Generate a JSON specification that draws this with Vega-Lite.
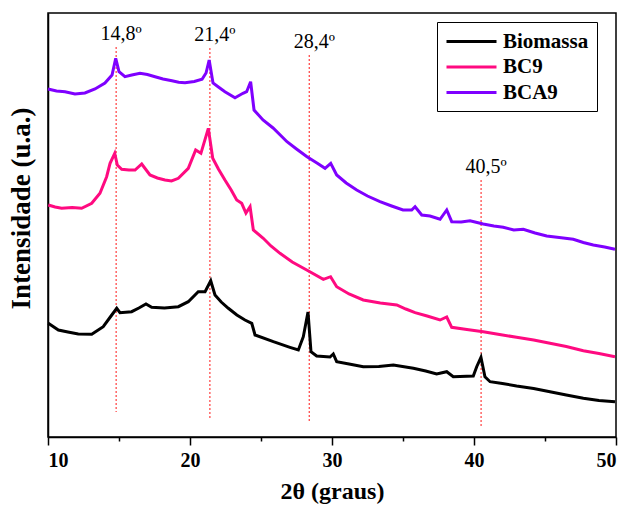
{
  "$schema": "https://vega.github.io/schema/vega-lite/v6.json",
  "width": 568,
  "height": 424,
  "autosize": {"type": "none"},
  "padding": {"left": 48, "top": 13, "right": 10, "bottom": 68},
  "background": "white",
  "config": {
    "view": {"stroke": "black", "strokeWidth": 1.5},
    "font": "Liberation Serif"
  },
  "datasets": {
    "xrd": [
      {"s": "BCA9", "x": 10.0, "y": 348}, {"s": "BCA9", "x": 10.6, "y": 346}, {"s": "BCA9", "x": 11.2, "y": 345.3}, {"s": "BCA9", "x": 11.9, "y": 343}, {"s": "BCA9", "x": 12.6, "y": 344},
      {"s": "BCA9", "x": 13.31, "y": 348}, {"s": "BCA9", "x": 14.01, "y": 354}, {"s": "BCA9", "x": 14.51, "y": 362},
      {"s": "BCA9", "x": 14.77, "y": 378.7}, {"s": "BCA9", "x": 15.0, "y": 365.3}, {"s": "BCA9", "x": 15.42, "y": 360.3},
      {"s": "BCA9", "x": 15.9, "y": 362}, {"s": "BCA9", "x": 16.48, "y": 363.7}, {"s": "BCA9", "x": 17.0, "y": 362.5}, {"s": "BCA9", "x": 17.54, "y": 360.3}, {"s": "BCA9", "x": 18.1, "y": 358}, {"s": "BCA9", "x": 18.73, "y": 356.3},
      {"s": "BCA9", "x": 19.2, "y": 354.8}, {"s": "BCA9", "x": 19.65, "y": 354.3}, {"s": "BCA9", "x": 20.3, "y": 355.5}, {"s": "BCA9", "x": 20.85, "y": 357.7}, {"s": "BCA9", "x": 21.13, "y": 364},
      {"s": "BCA9", "x": 21.35, "y": 377}, {"s": "BCA9", "x": 21.62, "y": 354}, {"s": "BCA9", "x": 22.0, "y": 350}, {"s": "BCA9", "x": 22.46, "y": 345.3},
      {"s": "BCA9", "x": 23.17, "y": 339.3}, {"s": "BCA9", "x": 23.73, "y": 343.7}, {"s": "BCA9", "x": 23.99, "y": 345.3},
      {"s": "BCA9", "x": 24.27, "y": 355.3}, {"s": "BCA9", "x": 24.51, "y": 327}, {"s": "BCA9", "x": 25.14, "y": 317},
      {"s": "BCA9", "x": 25.85, "y": 309}, {"s": "BCA9", "x": 26.83, "y": 295.3}, {"s": "BCA9", "x": 27.5, "y": 288}, {"s": "BCA9", "x": 28.24, "y": 280.3},
      {"s": "BCA9", "x": 28.94, "y": 274}, {"s": "BCA9", "x": 29.51, "y": 268.7}, {"s": "BCA9", "x": 29.91, "y": 273.7},
      {"s": "BCA9", "x": 30.33, "y": 262}, {"s": "BCA9", "x": 31.0, "y": 254}, {"s": "BCA9", "x": 31.74, "y": 247}, {"s": "BCA9", "x": 32.5, "y": 241}, {"s": "BCA9", "x": 33.38, "y": 235.3},
      {"s": "BCA9", "x": 34.2, "y": 231}, {"s": "BCA9", "x": 35.0, "y": 227}, {"s": "BCA9", "x": 35.61, "y": 227}, {"s": "BCA9", "x": 35.85, "y": 230.3},
      {"s": "BCA9", "x": 36.32, "y": 222}, {"s": "BCA9", "x": 36.9, "y": 221}, {"s": "BCA9", "x": 37.61, "y": 217.7},
      {"s": "BCA9", "x": 38.08, "y": 227}, {"s": "BCA9", "x": 38.43, "y": 215.3}, {"s": "BCA9", "x": 39.1, "y": 215}, {"s": "BCA9", "x": 39.72, "y": 216.3},
      {"s": "BCA9", "x": 40.65, "y": 213}, {"s": "BCA9", "x": 41.4, "y": 211}, {"s": "BCA9", "x": 42.06, "y": 209.7}, {"s": "BCA9", "x": 42.8, "y": 207}, {"s": "BCA9", "x": 43.47, "y": 207.7},
      {"s": "BCA9", "x": 44.3, "y": 204}, {"s": "BCA9", "x": 45.12, "y": 201}, {"s": "BCA9", "x": 46.0, "y": 199.5}, {"s": "BCA9", "x": 46.99, "y": 197.7}, {"s": "BCA9", "x": 47.7, "y": 194.5}, {"s": "BCA9", "x": 48.4, "y": 192},
      {"s": "BCA9", "x": 49.2, "y": 190}, {"s": "BCA9", "x": 49.93, "y": 187.7},

      {"s": "BC9", "x": 10.02, "y": 232}, {"s": "BC9", "x": 10.5, "y": 230}, {"s": "BC9", "x": 10.96, "y": 228.7}, {"s": "BC9", "x": 11.7, "y": 229.5}, {"s": "BC9", "x": 12.37, "y": 228.7},
      {"s": "BC9", "x": 13.08, "y": 233.7}, {"s": "BC9", "x": 13.66, "y": 243.7}, {"s": "BC9", "x": 14.13, "y": 260.3},
      {"s": "BC9", "x": 14.37, "y": 273.7}, {"s": "BC9", "x": 14.7, "y": 283.7}, {"s": "BC9", "x": 14.88, "y": 272},
      {"s": "BC9", "x": 15.19, "y": 267.7}, {"s": "BC9", "x": 15.7, "y": 267}, {"s": "BC9", "x": 16.13, "y": 267}, {"s": "BC9", "x": 16.6, "y": 273},
      {"s": "BC9", "x": 17.18, "y": 262}, {"s": "BC9", "x": 17.7, "y": 259}, {"s": "BC9", "x": 18.24, "y": 257}, {"s": "BC9", "x": 18.7, "y": 256}, {"s": "BC9", "x": 19.18, "y": 258.7},
      {"s": "BC9", "x": 19.88, "y": 268.7}, {"s": "BC9", "x": 20.4, "y": 287}, {"s": "BC9", "x": 20.77, "y": 283.7},
      {"s": "BC9", "x": 21.29, "y": 308.7}, {"s": "BC9", "x": 21.6, "y": 278.7}, {"s": "BC9", "x": 22.0, "y": 268}, {"s": "BC9", "x": 22.46, "y": 257},
      {"s": "BC9", "x": 22.9, "y": 247}, {"s": "BC9", "x": 23.29, "y": 237}, {"s": "BC9", "x": 23.64, "y": 233.7}, {"s": "BC9", "x": 23.94, "y": 224},
      {"s": "BC9", "x": 24.23, "y": 230.3}, {"s": "BC9", "x": 24.46, "y": 207}, {"s": "BC9", "x": 25.16, "y": 198.7},
      {"s": "BC9", "x": 25.7, "y": 191}, {"s": "BC9", "x": 26.34, "y": 183.7}, {"s": "BC9", "x": 27.2, "y": 175}, {"s": "BC9", "x": 28.22, "y": 167}, {"s": "BC9", "x": 29.39, "y": 157.7},
      {"s": "BC9", "x": 29.9, "y": 160.3}, {"s": "BC9", "x": 30.33, "y": 150.3}, {"s": "BC9", "x": 31.2, "y": 143}, {"s": "BC9", "x": 32.2, "y": 137},
      {"s": "BC9", "x": 33.4, "y": 134}, {"s": "BC9", "x": 34.56, "y": 132}, {"s": "BC9", "x": 35.2, "y": 128}, {"s": "BC9", "x": 35.85, "y": 124.3}, {"s": "BC9", "x": 36.7, "y": 121}, {"s": "BC9", "x": 37.61, "y": 117},
      {"s": "BC9", "x": 38.08, "y": 120}, {"s": "BC9", "x": 38.43, "y": 109.7}, {"s": "BC9", "x": 39.5, "y": 107.5}, {"s": "BC9", "x": 40.65, "y": 105.3},
      {"s": "BC9", "x": 41.8, "y": 102.5}, {"s": "BC9", "x": 43.0, "y": 99.7}, {"s": "BC9", "x": 44.2, "y": 97}, {"s": "BC9", "x": 45.35, "y": 93.7}, {"s": "BC9", "x": 46.5, "y": 90.5}, {"s": "BC9", "x": 47.7, "y": 86.3},
      {"s": "BC9", "x": 48.8, "y": 83.5}, {"s": "BC9", "x": 49.93, "y": 80.3},

      {"s": "Biomassa", "x": 10.02, "y": 113.7}, {"s": "Biomassa", "x": 10.73, "y": 107}, {"s": "Biomassa", "x": 11.4, "y": 105}, {"s": "Biomassa", "x": 12.13, "y": 103},
      {"s": "Biomassa", "x": 13.08, "y": 102.7}, {"s": "Biomassa", "x": 13.89, "y": 110.3}, {"s": "Biomassa", "x": 14.49, "y": 122},
      {"s": "Biomassa", "x": 14.84, "y": 128.7}, {"s": "Biomassa", "x": 15.07, "y": 124.3}, {"s": "Biomassa", "x": 15.89, "y": 125.3},
      {"s": "Biomassa", "x": 16.4, "y": 129}, {"s": "Biomassa", "x": 16.9, "y": 133}, {"s": "Biomassa", "x": 17.3, "y": 129.7}, {"s": "Biomassa", "x": 18.2, "y": 129}, {"s": "Biomassa", "x": 19.18, "y": 130.3},
      {"s": "Biomassa", "x": 19.88, "y": 135.3}, {"s": "Biomassa", "x": 20.58, "y": 145.3}, {"s": "Biomassa", "x": 21.06, "y": 145.3},
      {"s": "Biomassa", "x": 21.46, "y": 156.3}, {"s": "Biomassa", "x": 21.76, "y": 142}, {"s": "Biomassa", "x": 22.2, "y": 135}, {"s": "Biomassa", "x": 22.7, "y": 128.7},
      {"s": "Biomassa", "x": 23.3, "y": 122}, {"s": "Biomassa", "x": 23.87, "y": 117}, {"s": "Biomassa", "x": 24.35, "y": 113.7}, {"s": "Biomassa", "x": 24.58, "y": 102},
      {"s": "Biomassa", "x": 25.87, "y": 95.3}, {"s": "Biomassa", "x": 27.04, "y": 89.7}, {"s": "Biomassa", "x": 27.63, "y": 87},
      {"s": "Biomassa", "x": 27.98, "y": 100.3}, {"s": "Biomassa", "x": 28.31, "y": 125}, {"s": "Biomassa", "x": 28.52, "y": 85.3},
      {"s": "Biomassa", "x": 28.92, "y": 81}, {"s": "Biomassa", "x": 29.86, "y": 80}, {"s": "Biomassa", "x": 30.09, "y": 83},
      {"s": "Biomassa", "x": 30.33, "y": 75.3}, {"s": "Biomassa", "x": 31.2, "y": 73}, {"s": "Biomassa", "x": 32.2, "y": 70.3}, {"s": "Biomassa", "x": 33.3, "y": 70.5}, {"s": "Biomassa", "x": 34.32, "y": 72},
      {"s": "Biomassa", "x": 35.73, "y": 68.7}, {"s": "Biomassa", "x": 36.6, "y": 66}, {"s": "Biomassa", "x": 37.37, "y": 63}, {"s": "Biomassa", "x": 38.08, "y": 65.3},
      {"s": "Biomassa", "x": 38.54, "y": 60.3}, {"s": "Biomassa", "x": 39.95, "y": 61}, {"s": "Biomassa", "x": 40.19, "y": 70.3},
      {"s": "Biomassa", "x": 40.49, "y": 79.7}, {"s": "Biomassa", "x": 40.77, "y": 60.3}, {"s": "Biomassa", "x": 41.13, "y": 55.3},
      {"s": "Biomassa", "x": 42.0, "y": 53.5}, {"s": "Biomassa", "x": 43.0, "y": 51}, {"s": "Biomassa", "x": 44.2, "y": 48.5}, {"s": "Biomassa", "x": 45.35, "y": 45.3}, {"s": "Biomassa", "x": 46.5, "y": 42}, {"s": "Biomassa", "x": 47.7, "y": 38.7},
      {"s": "Biomassa", "x": 48.8, "y": 36.5}, {"s": "Biomassa", "x": 49.93, "y": 35.3}
    ],
    "picos": [
      {"rotulo": "14,8º", "x": 14.8, "top": 390, "bottom": 25},
      {"rotulo": "21,4º", "x": 21.4, "top": 389, "bottom": 19},
      {"rotulo": "28,4º", "x": 28.4, "top": 382, "bottom": 15},
      {"rotulo": "40,5º", "x": 40.5, "top": 257, "bottom": 10}
    ]
  },
  "layer": [
    {
      "data": {"name": "picos"},
      "mark": {"type": "rule", "color": "#ff4d4d", "strokeWidth": 1.3, "strokeDash": [2, 2]},
      "encoding": {
        "x": {"field": "x", "type": "quantitative", "scale": {"domain": [10, 50], "nice": false}},
        "y": {"field": "top", "type": "quantitative", "scale": {"domain": [0, 424], "nice": false}},
        "y2": {"field": "bottom"}
      }
    },
    {
      "data": {"name": "picos"},
      "mark": {"type": "text", "font": "Liberation Serif", "fontSize": 20, "align": "center", "baseline": "alphabetic", "dy": -7, "dx": 5, "color": "black"},
      "encoding": {
        "x": {"field": "x", "type": "quantitative"},
        "y": {"field": "top", "type": "quantitative"},
        "text": {"field": "rotulo"}
      }
    },
    {
      "data": {"name": "xrd"},
      "mark": {"type": "line", "strokeWidth": 3, "interpolate": "linear"},
      "encoding": {
        "x": {
          "field": "x", "type": "quantitative",
          "axis": {
            "title": "2θ (graus)",
            "values": [10, 15, 20, 25, 30, 35, 40, 45, 50],
            "labelExpr": "datum.value % 10 ? '' : datum.label",
            "tickSize": {"condition": {"test": "datum.value % 10 != 0", "value": 4}, "value": 8},
            "tickColor": "black", "tickWidth": 1.5,
            "domainColor": "black", "domainWidth": 1.5,
            "grid": false,
            "labelFont": "Liberation Serif", "labelFontSize": 20, "labelFontWeight": "bold", "labelColor": "black",
            "labelPadding": 5,
            "titleFont": "Liberation Serif", "titleFontSize": 24, "titleFontWeight": "bold", "titleColor": "black",
            "titleY": 61, "titleBaseline": "alphabetic"
          }
        },
        "y": {
          "field": "y", "type": "quantitative",
          "axis": {
            "title": "Intensidade (u.a.)",
            "labels": false, "ticks": false, "grid": false,
            "domainColor": "black", "domainWidth": 1.5,
            "titleFont": "Liberation Serif", "titleFontSize": 27, "titleFontWeight": "bold", "titleColor": "black",
            "titleX": -19, "titleY": 195, "titleBaseline": "alphabetic"
          }
        },
        "color": {
          "field": "s", "type": "nominal",
          "scale": {"domain": ["Biomassa", "BC9", "BCA9"], "range": ["#000000", "#ff0a80", "#7f00ff"]},
          "legend": {
            "title": null,
            "orient": "none", "legendX": 389, "legendY": 9,
            "symbolType": "M-2.5,0H2.5", "symbolSize": 400, "symbolStrokeWidth": 3,
            "symbolOffset": 15,
            "labelFont": "Liberation Serif", "labelFontSize": 21, "labelFontWeight": "bold", "labelColor": "black",
            "labelOffset": 20,
            "strokeColor": "black", "padding": 8, "rowPadding": 3.5,
            "fillColor": "white"
          }
        }
      }
    }
  ]
}
